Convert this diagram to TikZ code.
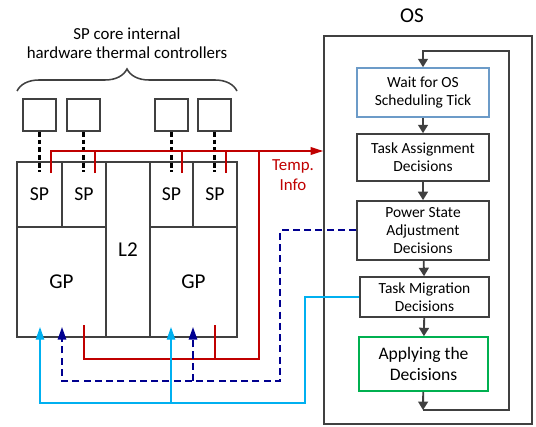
\documentclass[tikz,border=0pt]{standalone}
\usepackage{fontspec}
\setmainfont{Carlito}
\usetikzlibrary{arrows.meta,decorations.pathreplacing,positioning}

\definecolor{linegray}{HTML}{404040}
\definecolor{tempred}{HTML}{C00000}
\definecolor{psblue}{HTML}{000090}
\definecolor{tmblue}{HTML}{00B0F0}
\definecolor{tickblue}{HTML}{6C9BC8}
\definecolor{applygreen}{HTML}{00B050}

\tikzset{
  cell/.style={draw=linegray, line width=1.1pt, inner sep=0pt,
    font=\fontsize{14}{16}\selectfont},
  ctlbox/.style={draw=linegray, line width=1.1pt, inner sep=0pt,
    minimum width=0.825cm, minimum height=0.8cm},
  stepbox/.style={draw=linegray, line width=1.1pt, inner sep=0pt, align=center,
    minimum width=3.3cm, font=\fontsize{11}{13}\selectfont},
  flow/.style={-{Triangle[length=6pt,width=7pt]}, line width=1.3pt, color=linegray},
  ctlwire/.style={line width=1.5pt, dash pattern=on 3.5pt off 2pt, color=black},
  temp/.style={line width=1.1pt, color=tempred},
  pswire/.style={line width=1.3pt, dash pattern=on 5pt off 3pt, color=psblue},
  tmwire/.style={line width=0.9pt, color=tmblue},
  gptip/.style={-{Triangle[length=9pt,width=6pt]}}
}

\begin{document}
\begin{tikzpicture}[x=0.025cm, y=-0.025cm]
  \useasboundingbox (0,0) rectangle (536,426);

  % thermal controllers
  \node[align=center, font=\fontsize{12}{13.5}\selectfont] (ctlnote) at (127,43)
    {SP core internal\\hardware thermal controllers};
  \draw[decorate, decoration={brace, amplitude=0.55cm}, line width=1.1pt, color=linegray]
    (17,91) -- (237,91);
  \node[ctlbox] (ctl1) at (39.5,115) {};
  \node[ctlbox] (ctl2) at (83.5,115) {};
  \node[ctlbox] (ctl3) at (171.5,115) {};
  \node[ctlbox] (ctl4) at (214.5,115) {};

  % chip
  \node[cell, minimum width=1.125cm, minimum height=1.625cm] (sp1) at (39.5,194.5) {SP};
  \node[cell, minimum width=1.1cm, minimum height=1.625cm] (sp2) at (84,194.5) {SP};
  \node[cell, minimum width=1.1cm, minimum height=4.375cm,
    font=\fontsize{15}{17}\selectfont] (l2) at (128,249.5) {L2};
  \node[cell, minimum width=1.075cm, minimum height=1.625cm] (sp3) at (171.5,194.5) {SP};
  \node[cell, minimum width=1.1cm, minimum height=1.625cm] (sp4) at (215,194.5) {SP};
  \node[cell, minimum width=2.225cm, minimum height=2.75cm,
    font=\fontsize{15}{17}\selectfont] (gp1) at (61.5,282) {GP};
  \node[cell, minimum width=2.175cm, minimum height=2.75cm,
    font=\fontsize{15}{17}\selectfont] (gp2) at (193.5,282) {GP};

  \foreach \c in {ctl1,ctl2,ctl3,ctl4}
    \draw[ctlwire] (\c.south) -- ([yshift=-0.275cm]\c.south |- sp1.north);

  % OS side
  \node[font=\fontsize{15}{17}\selectfont] (oslabel) at (412,16) {OS};
  \node[draw=linegray, line width=1.1pt, minimum width=5.2cm, minimum height=9.7cm]
    (os) at (428,230) {};
  \node[stepbox, draw=tickblue, minimum height=1.225cm] (wait) at (423,92.5)
    {Wait for OS\\Scheduling Tick};
  \node[stepbox, minimum height=1.175cm] (assign) at (423,157.5)
    {Task Assignment\\Decisions};
  \node[stepbox, minimum height=1.475cm] (power) at (423,230.4)
    {Power State\\Adjustment\\Decisions};
  \node[stepbox, minimum width=3.225cm, minimum height=1cm] (migrate) at (424.5,297)
    {Task Migration\\Decisions};
  \node[stepbox, draw=applygreen, minimum width=3.225cm, minimum height=1.35cm,
    font=\fontsize{12.5}{15}\selectfont] (apply) at (423.5,364)
    {Applying the\\Decisions};

  \draw[flow] (wait) -- (assign);
  \draw[flow] (assign) -- (power);
  \draw[flow] (power) -- (migrate);
  \draw[flow] (migrate) -- (apply);
  \coordinate (loopbot) at (423,410);
  \coordinate (looptop) at (509,51);
  \draw[flow] (apply) -- (loopbot);
  \draw[flow] (loopbot) -| (looptop) -| (wait.north);

  % temperature info
  \coordinate (s1) at (51,173);
  \coordinate (s2) at (95,173);
  \coordinate (s3) at (182,173);
  \coordinate (s4) at (226,173);
  \coordinate (bus) at (259,151);
  \coordinate (g1) at (84,325);
  \coordinate (g2) at (215,325);
  \coordinate (gret) at (84,359);
  \draw[temp, -{Triangle[length=9pt,width=5.5pt]}] (s1) |- (os.west |- bus);
  \foreach \s in {s2,s3,s4}
    \draw[temp] (\s) -- (\s |- bus);
  \draw[temp] (bus) |- (gret) -- (g1);
  \draw[temp] (g2) -- (g2 |- gret);
  \node[align=center, text=tempred, font=\fontsize{12}{14}\selectfont] (tempinfo)
    at (293,175) {Temp.\\Info};

  % power state and migration decisions
  \coordinate (b1) at (62,327);
  \coordinate (b2) at (193,327);
  \coordinate (a1) at (40,327);
  \coordinate (a2) at (171,327);
  \coordinate (psturn) at (280,381);
  \coordinate (tmturn) at (305,403);
  \draw[pswire, gptip] (power.west) -| (psturn) -| (b1);
  \draw[pswire, gptip] (b2 |- psturn) -- (b2);
  \draw[tmwire, gptip] (migrate.west) -| (tmturn) -| (a1);
  \draw[tmwire, gptip] (a2 |- tmturn) -- (a2);
\end{tikzpicture}
\end{document}
